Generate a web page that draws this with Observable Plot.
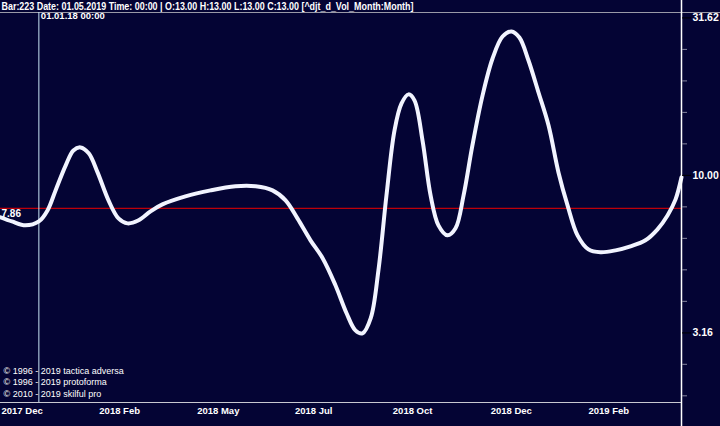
<!DOCTYPE html>
<html><head><meta charset="utf-8">
<script src="https://cdn.jsdelivr.net/npm/d3@7"></script>
<script src="https://cdn.jsdelivr.net/npm/@observablehq/plot@0.6"></script>
<style>
html,body{margin:0;padding:0;background:#040434;}
svg{display:block}
</style></head><body><div id="chart"></div>
<script>
// bar index (x) and monthly volume (y)
const bars = [0,6,13,20,24.5,28.7,34,38,41.7,46,50.6,56.3,61.5,66.2,72,78.2,84.4,96.4,109.5,122.5,133,141.8,148.6,154.8,161.6,168,174.6,180.4,185,188.7,193,197,201.2,205.4,209,212.7,215.8,220,224.2,228.3,233,237.2,241.4,246,251.3,256.5,261.7,266.4,270.5,275.2,280.5,285.7,290.9,295.6,300.8,306.5,312.8,320.6,328.4,336.2,342.5,347.7,351.9,355];
const values = [7.36,7.14,6.94,7.14,7.74,8.96,10.76,12.0,12.27,11.75,10.22,8.33,7.30,7.04,7.20,7.69,8.09,8.58,8.96,9.23,9.23,8.96,8.33,7.30,6.22,5.45,4.48,3.65,3.22,3.15,3.52,4.99,8.64,13.9,16.9,18.08,17.3,12.9,8.64,6.94,6.45,6.79,8.64,12.45,17.95,23.5,27.6,28.65,27.4,23.2,18.3,14.4,10.2,8.03,6.45,5.82,5.70,5.78,5.95,6.22,6.74,7.46,8.39,9.86];
const tickBars = [0,51,102,153,204,255,306];
const tickLabels = ["2017 Dec","2018 Feb","2018 May","2018 Jul","2018 Oct","2018 Dec","2019 Feb"];
const yTicks = [3.16, 10, 31.62];
const yMinorTicks = [1.995,2.512,3.981,5.012,6.310,7.943,12.59,15.85,19.95,25.12];
const yDomain = [1.9, 32.9];
const xDomain = [0, 355];
const crossBar = 20;
const crossLabel = "01.01.18 00:00";
const crossValue = 7.86;
const header = "Bar:223 Date: 01.05.2019 Time: 00:00 | O:13.00 H:13.00 L:13.00 C:13.00 [^djt_d_Vol_Month:Month]";
const copyright = ["© 1996 - 2019 tactica adversa","© 1996 - 2019 protoforma","© 2010 - 2019 skilful pro"];

const data = bars.map((b, i) => ({bar: b, v: values[i]}));
const bg = "#040434";

const chart = Plot.plot({
  width: 720, height: 426,
  marginLeft: 0, marginRight: 39, marginTop: 12, marginBottom: 24,
  style: {background: bg, fontFamily: "'Liberation Sans', Arial, sans-serif", fontSize: "10px", color: "white"},
  x: {domain: xDomain},
  y: {type: "log", domain: yDomain},
  marks: [
    // top separator line
    Plot.ruleY([yDomain[1]], {stroke: "#9a9aa8", strokeWidth: 1, insetRight: -39}),
    // bottom axis line
    Plot.ruleY([yDomain[0]], {stroke: "#c8c8d0", strokeWidth: 1}),
    // crosshair
    Plot.ruleY([crossValue], {stroke: "#ee0000", strokeWidth: 1}),
    Plot.ruleX([crossBar], {stroke: "#c8e6f6", strokeWidth: 1}),
    // data line
    Plot.line(data, {x: "bar", y: "v", curve: "catmull-rom", stroke: "#f2f4ff", strokeWidth: 4, strokeLinecap: "round", strokeLinejoin: "round"}),
    // right axis line
    Plot.ruleX([xDomain[1]], {stroke: "#ffffff", strokeWidth: 1.5, insetTop: -12, insetBottom: -24}),
    // right axis minor ticks
    Plot.axisY(yMinorTicks, {anchor: "right", label: null, tickSize: 5, stroke: "#8888a0", tickFormat: () => ""}),
    // right axis major ticks + labels
    Plot.axisY(yTicks, {anchor: "right", label: null, tickSize: 9, tickPadding: 2, stroke: "#000000", fill: "#ffffff", fontWeight: "bold", fontSize: 10.5, tickFormat: d => d.toFixed(2)}),
    // bottom axis labels
    Plot.axisX(tickBars, {anchor: "bottom", label: null, tickSize: 0, tickPadding: 5, textAnchor: "start", dx: 1, fill: "#ffffff", fontWeight: "bold", fontSize: 9.5, tickFormat: d => tickLabels[tickBars.indexOf(d)]}),
    // header
    Plot.text([header], {frameAnchor: "top-left", textAnchor: "start", lineAnchor: "middle", dx: 1, dy: -6, fill: "#ffffff", fontWeight: "bold", fontSize: 10, className: "hdr"}),
    // crosshair labels
    Plot.text([crossLabel], {x: () => crossBar, frameAnchor: "top", textAnchor: "start", lineAnchor: "top", dx: 2, dy: 0, fill: "#ffffff", fontWeight: "bold", fontSize: 9.5}),
    Plot.text([crossValue], {y: d => d, text: d => d.toFixed(2), frameAnchor: "left", textAnchor: "start", lineAnchor: "middle", dx: 1, dy: 5, fill: "#ffffff", fontWeight: "bold", fontSize: 10}),
    // copyright
    Plot.text([copyright.join("\n")], {frameAnchor: "bottom-left", textAnchor: "start", lineAnchor: "bottom", lineHeight: 1.25, dx: 3, dy: -6, fill: "#ffffff", fontSize: 9})
  ]
});
document.getElementById("chart").appendChild(chart);
// condense the header to the reference width
d3.select(chart).selectAll("g.hdr text").attr("textLength", 412).attr("lengthAdjust", "spacingAndGlyphs");
</script></body></html>
